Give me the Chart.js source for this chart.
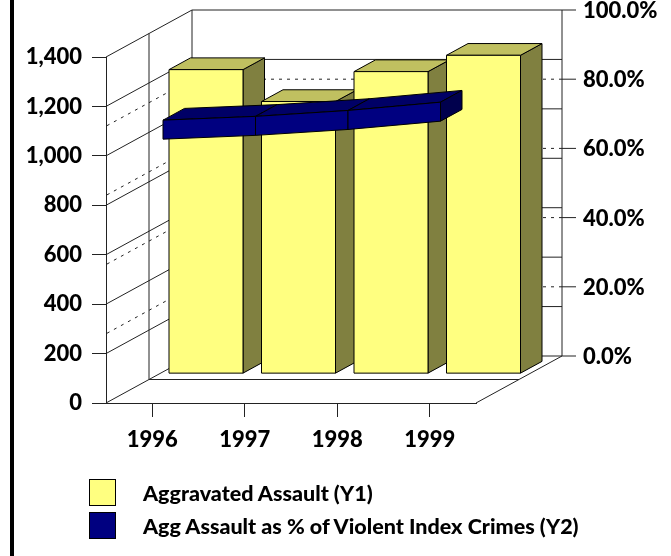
<!DOCTYPE html>
<html>
<head>
<meta charset="utf-8">
<script src="https://cdn.jsdelivr.net/npm/chart.js@4/dist/chart.umd.min.js"></script>
<style>
  body { margin: 0; background: #fff; }
  #wrap { position: relative; width: 671px; height: 556px; }
  #edge { position: absolute; left: 10px; top: 0; width: 4px; height: 556px; background: #000; }
  #legend { position: absolute; left: 89px; top: 479px; font: 900 21.5px Lato, sans-serif; color: #000; }
  .item { display: flex; align-items: center; height: 27px; margin-bottom: 6px; white-space: nowrap; }
  .swatch { width: 25px; height: 25px; border: 1px solid #000; margin-right: 27px; }
</style>
</head>
<body>
<div id="wrap">
  <div id="edge"></div>
  <canvas id="assaultChart" width="671" height="556"></canvas>
  <div id="legend"></div>
</div>
<script>
// data
const years = ['1996', '1997', '1998', '1999'];
const aggAssault = [1230, 1101, 1222, 1288];
const aggPercent = [77.3, 78.4, 80.1, 82.5];
const countTicks = [0, 200, 400, 600, 800, 1000, 1200, 1400];
const percentTicks = [0, 20, 40, 60, 80, 100];
const seriesLabels = ['Aggravated Assault (Y1)', 'Agg Assault as % of Violent Index Crimes (Y2)'];

// depth of the 3d box, pixels
const DX = 86;
const DY = -47;

const barColors = { front: '#FFFF80', top: '#C0C060', side: '#808040' };
const ribbonColors = { front: '#000080', top: '#000066', end: '#00004D' };

function poly(ctx, pts, fill) {
    ctx.beginPath();
    ctx.moveTo(pts[0][0], pts[0][1]);
    for (let i = 1; i < pts.length; i++) ctx.lineTo(pts[i][0], pts[i][1]);
    ctx.closePath();
    ctx.fillStyle = fill;
    ctx.fill();
    ctx.stroke();
}

function line(ctx, pts) {
    ctx.beginPath();
    ctx.moveTo(pts[0][0], pts[0][1]);
    for (let i = 1; i < pts.length; i++) ctx.lineTo(pts[i][0], pts[i][1]);
    ctx.stroke();
}

// draws walls, floor, right axis and the 3d bars / ribbon
const depth3d = {
    id: 'depth3d',
    beforeDatasetsDraw(chart) {
        const { ctx, chartArea: a, scales: { y, y1 } } = chart;
        const P = (px, py, d) => [px + DX * d, py + DY * d];

        ctx.save();
        ctx.lineWidth = 1;
        ctx.strokeStyle = '#222';

        // dotted gridlines of the percent axis
        ctx.setLineDash([3, 5]);
        y1.ticks.forEach(t => {
            if (t.value === 0 || t.value === 100) return;
            const yb = y1.getPixelForValue(t.value) + DY;
            line(ctx, [[a.right + DX, yb], [a.left + DX, yb], [a.left, yb - DY]]);
        });
        ctx.setLineDash([]);

        // solid gridlines of the count axis (side wall + back wall)
        y.ticks.forEach(t => {
            const yf = y.getPixelForValue(t.value);
            line(ctx, [[a.left, yf], P(a.left, yf, 1), P(a.right, yf, 1)]);
        });
        line(ctx, [P(a.left, a.top, 1), P(a.left, a.bottom, 1)]);
        line(ctx, [P(a.right, a.top, 1), P(a.right, a.bottom, 1)]);
        line(ctx, [P(a.left, a.top, 0.5), P(a.left, a.bottom, 0.5), P(a.right, a.bottom, 0.5)]);
        line(ctx, [[a.right, a.bottom], P(a.right, a.bottom, 1)]);

        // percent axis on the back plane
        ctx.fillStyle = '#000';
        ctx.font = '900 22px Lato';
        ctx.textAlign = 'left';
        ctx.textBaseline = 'middle';
        y1.ticks.forEach(t => {
            const yb = y1.getPixelForValue(t.value) + DY;
            const xb = a.right + DX;
            line(ctx, [[xb, yb], [xb + 14, yb]]);
            ctx.fillText(t.label, xb + 21, yb + 1);
        });

        ctx.strokeStyle = '#000';

        // bars, back row
        chart.getDatasetMeta(0).data.forEach(el => {
            const hw = el.width / 2;
            const xl = el.x - hw, xr = el.x + hw, yt = el.y, yb = el.base;
            const d0 = 0.625, d1 = 0.875;
            poly(ctx, [P(xr, yt, d0), P(xr, yt, d1), P(xr, yb, d1), P(xr, yb, d0)], barColors.side);
            poly(ctx, [P(xl, yt, d0), P(xr, yt, d0), P(xr, yt, d1), P(xl, yt, d1)], barColors.top);
            poly(ctx, [P(xl, yt, d0), P(xr, yt, d0), P(xr, yb, d0), P(xl, yb, d0)], barColors.front);
        });

        // ribbon, front row
        const pts = chart.getDatasetMeta(1).data;
        const h = 9.5, d0 = 0.125, d1 = 0.375;
        for (let i = 0; i < pts.length - 1; i++) {
            const p = pts[i], q = pts[i + 1];
            poly(ctx, [P(p.x, p.y - h, d0), P(q.x, q.y - h, d0), P(q.x, q.y - h, d1), P(p.x, p.y - h, d1)], ribbonColors.top);
            poly(ctx, [P(p.x, p.y - h, d0), P(q.x, q.y - h, d0), P(q.x, q.y + h, d0), P(p.x, p.y + h, d0)], ribbonColors.front);
        }
        const e = pts[pts.length - 1];
        poly(ctx, [P(e.x, e.y - h, d0), P(e.x, e.y - h, d1), P(e.x, e.y + h, d1), P(e.x, e.y + h, d0)], ribbonColors.end);

        ctx.restore();
        return false;
    }
};

Chart.defaults.font.family = 'Lato';
Chart.defaults.font.size = 22;
Chart.defaults.font.weight = 900;
Chart.defaults.color = '#000';

new Chart(document.getElementById('assaultChart'), {
    data: {
        labels: years,
        datasets: [{
            type: 'bar',
            label: seriesLabels[0],
            data: aggAssault,
            yAxisID: 'y',
            backgroundColor: barColors.front,
            barPercentage: 1,
            categoryPercentage: 0.8
        }, {
            type: 'line',
            label: seriesLabels[1],
            data: aggPercent,
            yAxisID: 'y1',
            borderColor: ribbonColors.front
        }]
    },
    options: {
        responsive: false,
        animation: false,
        events: [],
        layout: { padding: { top: 57, right: 195, left: 0, bottom: 0 } },
        plugins: { legend: { display: false }, tooltip: { enabled: false } },
        scales: {
            x: {
                grid: { offset: false, drawOnChartArea: false, tickLength: 14, color: '#222' },
                border: { color: '#222' },
                ticks: { padding: 10, maxRotation: 0, autoSkip: false },
                afterFit: s => { s.height = 153; }
            },
            y: {
                position: 'left',
                min: 0,
                max: 1400,
                afterBuildTicks: s => { s.ticks = countTicks.map(v => ({ value: v })); },
                grid: { drawOnChartArea: false, tickLength: 14, color: '#222' },
                border: { color: '#222' },
                ticks: { padding: 10 },
                afterFit: s => { s.width = 106; }
            },
            y1: {
                display: false,
                position: 'right',
                min: 0,
                max: 100,
                afterBuildTicks: s => { s.ticks = percentTicks.map(v => ({ value: v })); },
                ticks: { callback: v => v.toFixed(1) + '%' }
            }
        }
    },
    plugins: [depth3d]
});

// legend
const legendColors = [barColors.front, ribbonColors.front];
document.getElementById('legend').innerHTML = seriesLabels.map((txt, i) =>
    `<div class="item"><span class="swatch" style="background:${legendColors[i]}"></span>${txt}</div>`
).join('');
</script>
</body>
</html>
